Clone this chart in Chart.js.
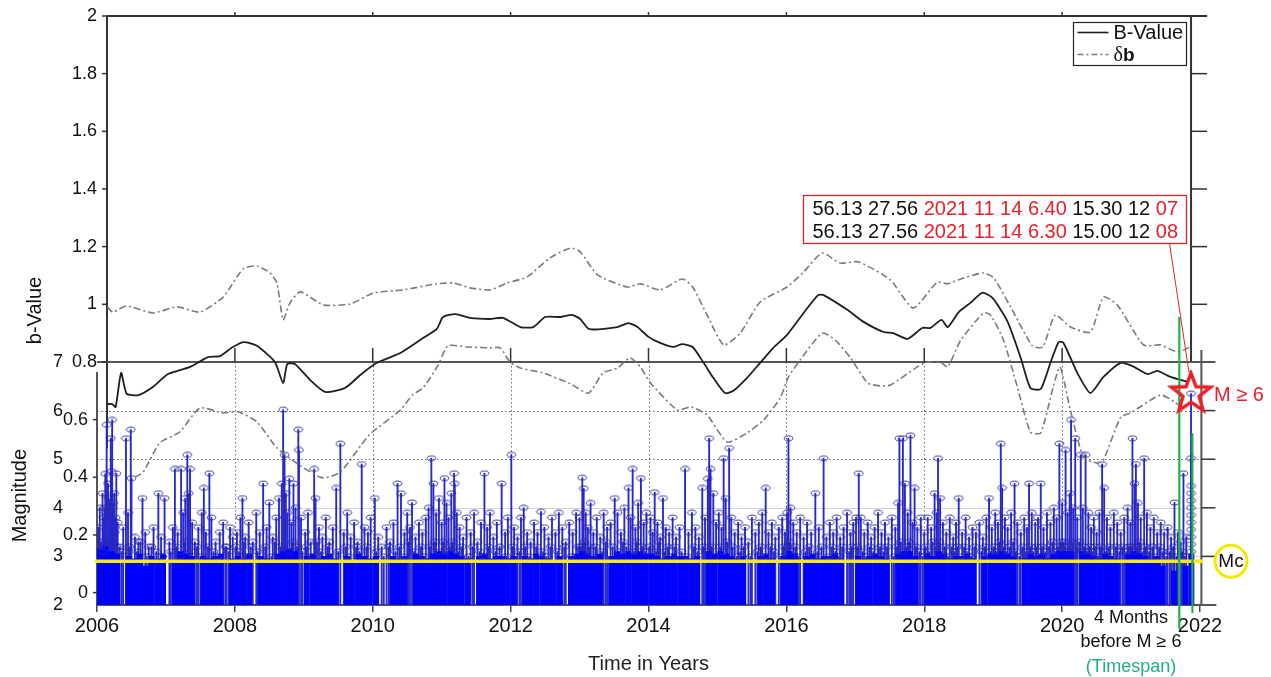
<!DOCTYPE html>
<html>
<head>
<meta charset="utf-8">
<title>b-Value and Magnitude</title>
<script src="https://cdn.jsdelivr.net/npm/chart.js@4.4.1/dist/chart.umd.min.js"></script>
<style>
  html, body { margin: 0; padding: 0; background: #fff; }
  #wrap { width: 1271px; height: 677px; }
</style>
</head>
<body>
<div id="wrap"><canvas id="bChart" width="1271" height="677"></canvas></div>
<script>
// b-value curve, [decimal year, b]
const bValue = [
  [2006.15, 0.654], [2006.22, 0.654], [2006.27, 0.644], [2006.35, 0.762], [2006.43, 0.69], [2006.6, 0.685],
  [2006.81, 0.713], [2007.03, 0.758], [2007.35, 0.783], [2007.61, 0.817], [2007.78, 0.82], [2007.97, 0.852],
  [2008.13, 0.869], [2008.32, 0.856], [2008.58, 0.8], [2008.70, 0.727], [2008.76, 0.793], [2008.87, 0.793],
  [2009.09, 0.738], [2009.31, 0.696], [2009.6, 0.71], [2009.82, 0.755], [2010.06, 0.797], [2010.40, 0.831],
  [2010.73, 0.883], [2010.93, 0.915], [2011.02, 0.956], [2011.20, 0.966], [2011.41, 0.953], [2011.70, 0.949],
  [2011.89, 0.953], [2012.14, 0.921], [2012.33, 0.921], [2012.50, 0.956], [2012.72, 0.956], [2012.89, 0.963],
  [2013.01, 0.949], [2013.14, 0.914], [2013.55, 0.921], [2013.71, 0.935], [2013.84, 0.921], [2014.0, 0.887],
  [2014.17, 0.866], [2014.36, 0.852], [2014.49, 0.862], [2014.64, 0.852], [2014.80, 0.797], [2014.94, 0.745],
  [2015.11, 0.692], [2015.23, 0.7], [2015.43, 0.745], [2015.62, 0.797], [2015.81, 0.849], [2016.01, 0.894],
  [2016.25, 0.97], [2016.46, 1.032], [2016.54, 1.032], [2016.89, 0.98], [2017.12, 0.939], [2017.41, 0.904],
  [2017.55, 0.9], [2017.76, 0.88], [2017.97, 0.918], [2018.09, 0.918], [2018.25, 0.946], [2018.34, 0.921],
  [2018.50, 0.973], [2018.67, 1.005], [2018.84, 1.04], [2018.99, 1.022], [2019.21, 0.939], [2019.40, 0.814],
  [2019.54, 0.71], [2019.69, 0.706], [2019.83, 0.797], [2019.95, 0.869], [2020.02, 0.866], [2020.22, 0.762],
  [2020.41, 0.692], [2020.60, 0.748], [2020.85, 0.797], [2021.04, 0.783], [2021.24, 0.758], [2021.38, 0.769],
  [2021.57, 0.748], [2021.82, 0.731]
];
// b + delta b
const bUpper = [
  [2006.15, 0.991], [2006.23, 0.973], [2006.43, 0.994], [2006.81, 0.97], [2007.16, 0.991], [2007.49, 0.973],
  [2007.83, 1.025], [2008.12, 1.123], [2008.32, 1.133], [2008.51, 1.109], [2008.61, 1.074], [2008.70, 0.946],
  [2008.80, 1.005], [2008.95, 1.043], [2009.28, 0.998], [2009.67, 1.001], [2010.01, 1.039], [2010.44, 1.05],
  [2010.93, 1.071], [2011.17, 1.074], [2011.41, 1.057], [2011.70, 1.05], [2011.95, 1.074], [2012.24, 1.095],
  [2012.57, 1.161], [2012.87, 1.195], [2013.01, 1.182], [2013.26, 1.102], [2013.69, 1.06], [2013.88, 1.071],
  [2014.17, 1.05], [2014.49, 1.088], [2014.64, 1.06], [2014.85, 0.963], [2015.09, 0.859], [2015.33, 0.9],
  [2015.62, 1.008], [2016.01, 1.06], [2016.25, 1.112], [2016.52, 1.178], [2016.78, 1.143], [2017.05, 1.147],
  [2017.51, 1.084], [2017.84, 0.987], [2018.19, 1.077], [2018.34, 1.071], [2018.53, 1.088], [2018.86, 1.109],
  [2019.01, 1.091], [2019.30, 0.97], [2019.57, 0.855], [2019.72, 0.852], [2019.90, 0.963], [2020.12, 0.921],
  [2020.41, 0.904], [2020.60, 1.025], [2020.80, 0.998], [2021.18, 0.859], [2021.43, 0.859], [2021.67, 0.835],
  [2021.86, 0.852]
];
// b - delta b
const bLower = [
  [2006.55, 0.40], [2006.67, 0.418], [2006.91, 0.519], [2007.2, 0.557], [2007.49, 0.64], [2007.83, 0.623],
  [2008.05, 0.627], [2008.32, 0.592], [2008.61, 0.502], [2008.95, 0.44], [2009.27, 0.398], [2009.53, 0.418],
  [2009.95, 0.547], [2010.4, 0.633], [2010.58, 0.686], [2010.73, 0.71], [2010.95, 0.79], [2011.09, 0.856],
  [2011.37, 0.852], [2011.70, 0.849], [2011.85, 0.849], [2011.99, 0.8], [2012.14, 0.779], [2012.47, 0.762],
  [2012.87, 0.724], [2013.13, 0.692], [2013.34, 0.762], [2013.55, 0.779], [2013.73, 0.814], [2013.88, 0.783],
  [2014.03, 0.727], [2014.42, 0.633], [2014.61, 0.644], [2014.85, 0.616], [2015.14, 0.522], [2015.43, 0.554],
  [2015.67, 0.599], [2015.91, 0.675], [2016.03, 0.748], [2016.2, 0.807], [2016.52, 0.9], [2016.71, 0.876],
  [2016.93, 0.814], [2017.18, 0.727], [2017.36, 0.717], [2017.51, 0.72], [2017.9, 0.783], [2018.05, 0.8],
  [2018.23, 0.8], [2018.34, 0.783], [2018.53, 0.876], [2018.86, 0.97], [2018.96, 0.963], [2019.15, 0.876],
  [2019.35, 0.713], [2019.54, 0.557], [2019.69, 0.554], [2019.87, 0.713], [2019.97, 0.783], [2020.12, 0.633],
  [2020.31, 0.47], [2020.51, 0.449], [2020.6, 0.46], [2020.85, 0.609], [2020.99, 0.623], [2021.43, 0.685],
  [2021.65, 0.658], [2021.76, 0.633]
];
// larger events, [decimal year, magnitude]
const bigEvents = [
  [2006.02, 3.6], [2006.04, 4.0], [2006.06, 3.3], [2006.08, 4.3], [2006.10, 3.8], [2006.11, 4.0], [2006.12, 4.7],
  [2006.13, 3.9], [2006.14, 5.71], [2006.16, 4.5], [2006.17, 4.2], [2006.18, 3.9], [2006.19, 4.1], [2006.20, 5.43],
  [2006.21, 4.75], [2006.22, 5.81], [2006.23, 4.0], [2006.24, 4.1], [2006.25, 4.3], [2006.26, 3.5], [2006.27, 3.8],
  [2006.28, 4.71], [2006.30, 3.7], [2006.33, 3.2], [2006.38, 3.6], [2006.42, 5.43], [2006.45, 3.9], [2006.49, 5.61],
  [2006.50, 4.61], [2006.55, 3.4], [2006.60, 3.3], [2006.66, 4.2], [2006.70, 3.5], [2006.75, 3.2], [2006.82, 3.6],
  [2006.89, 4.3], [2006.93, 3.4], [2006.98, 4.2],
  [2007.05, 3.3], [2007.10, 3.6], [2007.13, 4.8], [2007.17, 3.5], [2007.22, 4.8], [2007.25, 3.9], [2007.28, 4.2],
  [2007.31, 5.09], [2007.33, 4.3], [2007.35, 4.8], [2007.38, 3.7], [2007.42, 3.3], [2007.47, 3.6], [2007.52, 3.9],
  [2007.55, 4.41], [2007.58, 3.5], [2007.63, 4.71], [2007.66, 3.8], [2007.72, 3.3], [2007.78, 3.5], [2007.83, 3.7],
  [2007.88, 3.2], [2007.93, 3.6], [2007.97, 3.4],
  [2008.03, 3.5], [2008.08, 3.8], [2008.11, 4.2], [2008.15, 3.4], [2008.20, 3.7], [2008.26, 3.3], [2008.31, 3.9],
  [2008.36, 3.5], [2008.41, 4.5], [2008.46, 3.6], [2008.50, 4.11], [2008.55, 3.4], [2008.60, 3.8], [2008.64, 4.2],
  [2008.68, 4.5], [2008.70, 6.02], [2008.72, 5.09], [2008.74, 4.3], [2008.76, 3.9], [2008.79, 4.6], [2008.82, 3.7],
  [2008.85, 4.5], [2008.88, 4.0], [2008.92, 5.61], [2008.93, 5.19], [2008.96, 3.8],
  [2009.02, 3.5], [2009.06, 3.9], [2009.10, 3.3], [2009.15, 4.8], [2009.17, 4.2], [2009.22, 3.6], [2009.27, 3.4],
  [2009.32, 3.8], [2009.37, 3.3], [2009.42, 3.6], [2009.47, 4.41], [2009.53, 5.32], [2009.58, 3.5], [2009.63, 3.9],
  [2009.68, 3.4], [2009.73, 3.7], [2009.78, 3.3], [2009.84, 4.9], [2009.88, 3.6], [2009.93, 3.5], [2009.97, 3.8],
  [2010.03, 4.2], [2010.08, 3.4], [2010.13, 3.2], [2010.20, 3.6], [2010.25, 3.3], [2010.30, 3.7], [2010.36, 4.5],
  [2010.41, 4.3], [2010.46, 3.5], [2010.50, 3.9], [2010.54, 3.6], [2010.57, 4.11], [2010.62, 3.4], [2010.67, 3.7],
  [2010.72, 3.5], [2010.77, 3.8], [2010.81, 4.0], [2010.85, 5.02], [2010.88, 4.5], [2010.92, 3.9], [2010.96, 4.2],
  [2011.00, 3.7], [2011.04, 4.61], [2011.07, 4.1], [2011.10, 3.8], [2011.14, 4.3], [2011.18, 4.71], [2011.19, 4.5],
  [2011.22, 3.9], [2011.26, 3.6], [2011.31, 3.4], [2011.36, 3.8], [2011.42, 3.5], [2011.47, 3.9], [2011.52, 3.3],
  [2011.57, 3.7], [2011.62, 4.71], [2011.66, 3.6], [2011.70, 3.9], [2011.75, 3.4], [2011.80, 3.7], [2011.87, 4.5],
  [2011.92, 3.5], [2011.96, 3.8],
  [2012.01, 5.09], [2012.05, 3.6], [2012.10, 3.4], [2012.15, 3.8], [2012.19, 4.0], [2012.24, 3.5], [2012.29, 3.3],
  [2012.34, 3.7], [2012.39, 3.5], [2012.44, 3.92], [2012.49, 3.6], [2012.55, 3.4], [2012.60, 3.8], [2012.65, 3.5],
  [2012.70, 3.9], [2012.75, 3.6], [2012.80, 3.3], [2012.85, 3.7], [2012.90, 3.5], [2012.95, 3.9],
  [2013.00, 3.8], [2013.04, 4.62], [2013.06, 4.4], [2013.09, 3.9], [2013.12, 3.6], [2013.16, 4.1], [2013.20, 3.5],
  [2013.25, 3.8], [2013.30, 3.4], [2013.35, 3.9], [2013.40, 3.6], [2013.45, 3.7], [2013.51, 4.2], [2013.55, 3.9],
  [2013.60, 3.5], [2013.65, 4.0], [2013.71, 4.41], [2013.74, 3.8], [2013.77, 4.8], [2013.81, 3.6], [2013.85, 4.1],
  [2013.89, 4.61], [2013.93, 3.7], [2013.97, 3.9],
  [2014.03, 3.8], [2014.06, 3.5], [2014.09, 4.32], [2014.13, 3.7], [2014.17, 3.4], [2014.21, 4.2], [2014.25, 3.6],
  [2014.30, 3.5], [2014.35, 3.8], [2014.40, 3.4], [2014.45, 3.6], [2014.53, 4.8], [2014.58, 3.5], [2014.63, 3.9],
  [2014.68, 3.6], [2014.73, 3.4], [2014.78, 4.41], [2014.82, 3.8], [2014.86, 4.6], [2014.88, 5.43], [2014.90, 4.8],
  [2014.94, 4.3], [2014.98, 3.7],
  [2015.02, 3.9], [2015.06, 3.6], [2015.09, 5.02], [2015.12, 4.2], [2015.17, 5.23], [2015.20, 3.8], [2015.25, 3.5],
  [2015.30, 3.7], [2015.35, 3.4], [2015.40, 3.6], [2015.45, 3.3], [2015.50, 3.8], [2015.55, 3.5], [2015.60, 3.7],
  [2015.65, 3.9], [2015.70, 4.41], [2015.74, 3.5], [2015.79, 3.7], [2015.84, 3.4], [2015.89, 3.6], [2015.94, 3.8],
  [2015.98, 3.5],
  [2016.01, 3.9], [2016.03, 5.43], [2016.06, 4.0], [2016.10, 3.7], [2016.15, 3.5], [2016.20, 3.8], [2016.25, 3.4],
  [2016.30, 3.7], [2016.36, 3.5], [2016.42, 4.3], [2016.47, 3.6], [2016.54, 5.02], [2016.58, 3.4], [2016.63, 3.7],
  [2016.68, 3.5], [2016.73, 3.8], [2016.78, 3.4], [2016.83, 3.6], [2016.88, 3.9], [2016.93, 3.5], [2016.97, 3.7],
  [2017.01, 3.8], [2017.05, 4.71], [2017.08, 3.8], [2017.13, 3.5], [2017.18, 3.7], [2017.23, 3.4], [2017.28, 3.6],
  [2017.33, 3.9], [2017.38, 3.5], [2017.43, 3.7], [2017.48, 3.4], [2017.53, 3.8], [2017.58, 3.6], [2017.62, 4.1],
  [2017.64, 5.43], [2017.69, 5.43], [2017.72, 4.5], [2017.76, 3.9], [2017.80, 5.49], [2017.83, 3.7], [2017.86, 4.41],
  [2017.90, 3.6], [2017.95, 3.8],
  [2018.00, 3.5], [2018.05, 3.8], [2018.10, 3.6], [2018.15, 4.3], [2018.18, 3.9], [2018.20, 5.02], [2018.23, 4.2],
  [2018.27, 3.7], [2018.32, 3.5], [2018.37, 3.8], [2018.42, 3.4], [2018.46, 3.7], [2018.50, 4.2], [2018.55, 3.5],
  [2018.60, 3.8], [2018.65, 3.4], [2018.70, 3.6], [2018.75, 3.5], [2018.80, 3.7], [2018.85, 3.4], [2018.90, 3.8],
  [2018.94, 4.2], [2018.98, 3.6],
  [2019.03, 3.9], [2019.07, 3.7], [2019.11, 5.32], [2019.13, 4.41], [2019.17, 3.8], [2019.21, 3.6], [2019.26, 3.9],
  [2019.31, 4.5], [2019.35, 3.7], [2019.40, 3.5], [2019.45, 3.8], [2019.49, 3.6], [2019.52, 4.5], [2019.56, 3.9],
  [2019.61, 3.7], [2019.65, 3.8], [2019.69, 4.5], [2019.73, 3.6], [2019.78, 3.9], [2019.83, 3.7], [2019.88, 4.0],
  [2019.92, 3.8], [2019.96, 5.32],
  [2020.00, 4.1], [2020.05, 5.19], [2020.08, 3.9], [2020.11, 4.3], [2020.13, 5.81], [2020.16, 4.0], [2020.19, 5.43],
  [2020.22, 3.8], [2020.27, 5.09], [2020.30, 4.0], [2020.34, 5.09], [2020.38, 3.9], [2020.42, 3.6], [2020.46, 3.8],
  [2020.50, 3.5], [2020.54, 3.9], [2020.58, 4.9], [2020.61, 4.41], [2020.65, 3.8], [2020.70, 3.6], [2020.75, 3.9],
  [2020.80, 3.7], [2020.85, 3.5], [2020.90, 3.8], [2020.95, 4.0], [2020.99, 3.7],
  [2021.02, 5.43], [2021.05, 4.5], [2021.07, 4.9], [2021.10, 4.1], [2021.14, 3.8], [2021.19, 5.02], [2021.23, 3.9],
  [2021.28, 3.6], [2021.33, 3.8], [2021.38, 3.5], [2021.43, 3.7], [2021.48, 3.5], [2021.53, 3.6], [2021.58, 3.4],
  [2021.63, 4.11], [2021.68, 3.5], [2021.72, 3.3], [2021.76, 4.71], [2021.80, 3.4],
  [2021.87, 3.1], [2021.87, 3.25], [2021.87, 3.4], [2021.87, 3.55], [2021.87, 3.7], [2021.87, 3.85], [2021.87, 4.0],
  [2021.87, 4.15], [2021.87, 4.3], [2021.87, 4.45], [2021.87, 5.02], [2021.87, 6.35]
];
// events just above Mc
const smallEvents = [
  [2006.05, 3.2], [2006.09, 3.1], [2006.15, 3.3], [2006.29, 3.2], [2006.36, 3.1], [2006.47, 3.2], [2006.58, 3.1],
  [2006.63, 3.3], [2006.72, 3.0], [2006.79, 3.2], [2006.86, 3.1], [2006.95, 3.0],
  [2007.07, 3.1], [2007.15, 3.2], [2007.20, 3.0], [2007.27, 3.3], [2007.36, 3.1], [2007.45, 3.2], [2007.50, 3.0],
  [2007.61, 3.2], [2007.69, 3.1], [2007.75, 3.0], [2007.86, 3.2], [2007.91, 3.1],
  [2008.01, 3.2], [2008.06, 3.1], [2008.13, 3.3], [2008.18, 3.0], [2008.23, 3.2], [2008.33, 3.1], [2008.44, 3.2],
  [2008.53, 3.0], [2008.58, 3.3], [2008.66, 3.2], [2008.78, 3.1], [2008.84, 3.3], [2008.90, 3.2], [2008.98, 3.1],
  [2009.04, 3.2], [2009.12, 3.0], [2009.19, 3.3], [2009.25, 3.1], [2009.35, 3.2], [2009.40, 3.0], [2009.50, 3.1],
  [2009.61, 3.2], [2009.66, 3.0], [2009.76, 3.2], [2009.81, 3.1], [2009.91, 3.2],
  [2010.05, 3.1], [2010.16, 3.0], [2010.23, 3.2], [2010.33, 3.1], [2010.39, 3.2], [2010.44, 3.0], [2010.52, 3.3],
  [2010.60, 3.1], [2010.70, 3.2], [2010.75, 3.0], [2010.83, 3.2], [2010.90, 3.3], [2010.98, 3.1],
  [2011.02, 3.3], [2011.06, 3.1], [2011.12, 3.2], [2011.16, 3.3], [2011.24, 3.1], [2011.29, 3.2], [2011.39, 3.0],
  [2011.45, 3.2], [2011.55, 3.1], [2011.60, 3.0], [2011.68, 3.2], [2011.78, 3.1], [2011.84, 3.2], [2011.94, 3.0],
  [2012.03, 3.2], [2012.08, 3.0], [2012.13, 3.1], [2012.21, 3.2], [2012.27, 3.0], [2012.37, 3.2], [2012.47, 3.1],
  [2012.52, 3.0], [2012.58, 3.2], [2012.68, 3.1], [2012.78, 3.2], [2012.88, 3.0], [2012.98, 3.2],
  [2013.02, 3.2], [2013.07, 3.3], [2013.11, 3.1], [2013.14, 3.2], [2013.18, 3.0], [2013.23, 3.2], [2013.33, 3.1],
  [2013.38, 3.3], [2013.48, 3.2], [2013.58, 3.1], [2013.63, 3.3], [2013.68, 3.2], [2013.79, 3.1], [2013.83, 3.3],
  [2013.91, 3.2], [2013.95, 3.1],
  [2014.01, 3.2], [2014.11, 3.1], [2014.15, 3.3], [2014.23, 3.1], [2014.28, 3.2], [2014.33, 3.0], [2014.38, 3.2],
  [2014.48, 3.1], [2014.56, 3.0], [2014.66, 3.2], [2014.71, 3.1], [2014.80, 3.2], [2014.84, 3.1], [2014.92, 3.2],
  [2014.96, 3.0],
  [2015.04, 3.2], [2015.08, 3.1], [2015.14, 3.3], [2015.22, 3.2], [2015.28, 3.0], [2015.33, 3.1], [2015.38, 3.2],
  [2015.48, 3.0], [2015.58, 3.1], [2015.63, 3.2], [2015.68, 3.0], [2015.77, 3.2], [2015.82, 3.1], [2015.92, 3.0],
  [2015.96, 3.2],
  [2016.02, 3.2], [2016.05, 3.3], [2016.08, 3.1], [2016.13, 3.2], [2016.18, 3.0], [2016.28, 3.1], [2016.33, 3.2],
  [2016.39, 3.0], [2016.45, 3.1], [2016.51, 3.2], [2016.61, 3.0], [2016.66, 3.2], [2016.71, 3.1], [2016.76, 3.0],
  [2016.81, 3.2], [2016.91, 3.1], [2016.95, 3.2],
  [2017.03, 3.2], [2017.11, 3.1], [2017.16, 3.0], [2017.21, 3.2], [2017.26, 3.1], [2017.31, 3.0], [2017.36, 3.2],
  [2017.41, 3.1], [2017.46, 3.2], [2017.56, 3.0], [2017.60, 3.2], [2017.66, 3.3], [2017.70, 3.1], [2017.74, 3.2],
  [2017.78, 3.3], [2017.88, 3.2], [2017.93, 3.1], [2017.98, 3.0],
  [2018.02, 3.2], [2018.07, 3.1], [2018.12, 3.3], [2018.17, 3.2], [2018.22, 3.3], [2018.25, 3.1], [2018.30, 3.2],
  [2018.35, 3.0], [2018.40, 3.2], [2018.44, 3.1], [2018.48, 3.2], [2018.53, 3.0], [2018.58, 3.2], [2018.63, 3.1],
  [2018.68, 3.0], [2018.73, 3.2], [2018.83, 3.1], [2018.88, 3.2], [2018.96, 3.1],
  [2019.01, 3.2], [2019.05, 3.1], [2019.09, 3.3], [2019.15, 3.2], [2019.19, 3.1], [2019.24, 3.2], [2019.29, 3.3],
  [2019.33, 3.1], [2019.38, 3.0], [2019.43, 3.2], [2019.47, 3.1], [2019.54, 3.2], [2019.58, 3.1], [2019.63, 3.2],
  [2019.67, 3.0], [2019.71, 3.2], [2019.76, 3.1], [2019.81, 3.2], [2019.86, 3.3], [2019.90, 3.1], [2019.94, 3.2],
  [2019.98, 3.3],
  [2020.02, 3.3], [2020.04, 3.2], [2020.07, 3.1], [2020.10, 3.2], [2020.14, 3.3], [2020.18, 3.1], [2020.21, 3.2],
  [2020.25, 3.3], [2020.29, 3.1], [2020.32, 3.2], [2020.36, 3.1], [2020.40, 3.2], [2020.44, 3.1], [2020.48, 3.2],
  [2020.52, 3.0], [2020.56, 3.2], [2020.63, 3.1], [2020.68, 3.2], [2020.73, 3.0], [2020.78, 3.2], [2020.83, 3.1],
  [2020.88, 3.2], [2020.93, 3.1], [2020.97, 3.2],
  [2021.01, 3.2], [2021.04, 3.1], [2021.09, 3.2], [2021.12, 3.3], [2021.17, 3.1], [2021.21, 3.2], [2021.26, 3.1],
  [2021.31, 3.2], [2021.36, 3.0], [2021.41, 3.2], [2021.46, 3.1], [2021.51, 3.0], [2021.56, 3.1], [2021.61, 3.2],
  [2021.66, 3.0], [2021.74, 3.1], [2021.78, 3.0]
];
// upper level of the dense small events, one value per month Jan 2006 .. Dec 2021 (0 = none)
const baseMonthly = [
  3.15, 3.2, 3.1, 3.05, 0, 3.0, 2.95, 3.05, 2.8, 3.0, 2.95, 3.05,
  0, 2.9, 3.1, 3.05, 3.0, 0, 3.0, 2.95, 3.0, 3.05, 0, 2.95,
  3.0, 2.95, 3.05, 0, 3.0, 2.95, 2.9, 3.05, 3.1, 3.15, 3.1, 0,
  3.0, 3.05, 2.95, 3.0, 3.05, 2.95, 0, 3.0, 2.9, 3.05, 3.0, 2.95,
  3.0, 0, 0, 3.0, 2.95, 3.0, 0, 3.05, 3.0, 2.95, 3.05, 3.1,
  3.05, 3.1, 3.05, 3.0, 2.95, 0, 3.0, 3.05, 2.95, 3.0, 3.0, 2.95,
  3.0, 0, 3.0, 2.95, 3.05, 3.0, 2.95, 2.9, 3.0, 0, 3.0, 3.05,
  3.1, 3.05, 3.0, 3.05, 0, 3.0, 3.1, 3.05, 3.1, 3.05, 3.1, 3.05,
  3.05, 3.0, 2.95, 3.0, 3.05, 3.0, 3.0, 2.95, 3.0, 0, 3.1, 3.05,
  3.1, 3.05, 3.0, 2.95, 3.0, 0, 0, 3.0, 3.05, 2.95, 0, 3.0,
  3.1, 3.05, 0, 3.0, 3.05, 2.95, 3.0, 3.0, 3.05, 2.95, 0, 0,
  3.0, 2.95, 3.0, 3.05, 3.0, 2.95, 0, 3.05, 3.1, 3.1, 3.0, 0,
  3.05, 3.0, 3.1, 3.05, 2.95, 3.0, 3.0, 3.05, 2.95, 0, 3.0, 3.05,
  3.05, 3.1, 3.05, 3.0, 0, 2.95, 3.05, 3.0, 3.05, 2.95, 3.05, 3.1,
  3.1, 3.1, 0, 3.1, 3.05, 3.0, 2.95, 3.05, 3.0, 2.95, 0, 3.05,
  3.1, 3.05, 3.0, 2.95, 3.0, 2.8, 0, 2.7, 0, 2.8, 3.05, 0
];
const mainShock = [2021.87, 6.35];
const mcValue = 2.9;
const windowStart = 2021.70;
const windowEnd = 2021.89;
const yearTicks = [2006, 2008, 2010, 2012, 2014, 2016, 2018, 2020, 2022];
const bTicksUpper = [0.8, 1, 1.2, 1.4, 1.6, 1.8, 2];
const bTicksLower = [0, 0.2, 0.4, 0.6];
const magTicks = [2, 3, 4, 5, 6, 7];
const infoRows = [
  ['56.13 27.56 ', '2021 11 14 6.40', ' 15.30 12 ', '07'],
  ['56.13 27.56 ', '2021 11 14 6.30', ' 15.00 12 ', '08']
];

const FONT = '"Liberation Sans", Arial, Helvetica, sans-serif';
const RED = '#e8202a';
const events = bigEvents.concat(smallEvents);

function line(ctx, x1, y1, x2, y2) {
  ctx.beginPath();
  ctx.moveTo(x1, y1);
  ctx.lineTo(x2, y2);
  ctx.stroke();
}

function ellipseMarker() {
  const c = document.createElement('canvas');
  c.width = 11; c.height = 7;
  const g = c.getContext('2d');
  g.strokeStyle = '#2a2aa8';
  g.lineWidth = 1;
  g.beginPath();
  g.ellipse(5.5, 3.5, 4.3, 2.4, 0, 0, Math.PI * 2);
  g.stroke();
  return c;
}

function starMarker() {
  const c = document.createElement('canvas');
  c.width = 48; c.height = 48;
  const g = c.getContext('2d');
  g.strokeStyle = RED;
  g.lineWidth = 3.5;
  g.beginPath();
  for (let i = 0; i < 10; i++) {
    const r = i % 2 ? 8.5 : 20.5;
    const a = -Math.PI / 2 + i * Math.PI / 5;
    const px = 24 + r * Math.cos(a), py = 24 + r * Math.sin(a);
    if (i) g.lineTo(px, py); else g.moveTo(px, py);
  }
  g.closePath();
  g.stroke();
  return c;
}

const fmtB = v => String(+Number(v).toFixed(1));
// fixed axis widths, no extra vertical padding from tick labels
const fixWidth = w => s => { s.width = w; s.paddingTop = 0; s.paddingBottom = 0; };

// panel frames, grid and small tick marks
const framePlugin = {
  id: 'frames',
  beforeDatasetsDraw(chart) {
    const {ctx, chartArea: a, scales: {x, yB, yMag}} = chart;
    const yTop = yB.getPixelForValue(2);
    const yMid = yMag.getPixelForValue(7);
    const yBot = a.bottom;
    const xUpL = x.getPixelForValue(2006.145);
    const xUpR = x.getPixelForValue(2021.87);
    const xLoR = x.getPixelForValue(2022.02);
    const inner = yearTicks.slice(1, -1);
    ctx.save();
    ctx.lineWidth = 1;
    ctx.strokeStyle = '#d4d4d4';
    [3, 4].forEach(m => {
      const py = Math.round(yMag.getPixelForValue(m)) + 0.5;
      line(ctx, a.left, py, xLoR, py);
    });
    ctx.strokeStyle = '#666';
    ctx.setLineDash([1.5, 2.5]);
    inner.forEach(t => {
      const px = Math.round(x.getPixelForValue(t)) + 0.5;
      line(ctx, px, yMid, px, yBot);
    });
    [5, 6].forEach(m => {
      const py = Math.round(yMag.getPixelForValue(m)) + 0.5;
      line(ctx, a.left, py, xLoR, py);
    });
    ctx.setLineDash([]);

    ctx.strokeStyle = '#333';
    ctx.lineWidth = 2;
    // upper panel
    line(ctx, xUpL, yTop, xUpR + 16, yTop);
    line(ctx, xUpL, yTop, xUpL, yB.getPixelForValue(0.5));
    line(ctx, xUpR, yTop, xUpR, yMid);
    // lower panel
    ctx.strokeStyle = '#555';
    line(ctx, a.left, yMid, xLoR + 14, yMid);
    line(ctx, a.left, yMid + 10, a.left, yBot);
    line(ctx, a.left, yBot, xLoR + 15, yBot);
    line(ctx, xLoR, yMid - 12, xLoR, yBot);

    ctx.lineWidth = 1.5;
    ctx.strokeStyle = '#333';
    bTicksUpper.forEach(v => {
      const py = yB.getPixelForValue(v);
      line(ctx, xUpL - 5, py, xUpL, py);
    });
    bTicksLower.forEach(v => {
      const py = yB.getPixelForValue(v);
      line(ctx, a.left - 4, py, a.left, py);
    });
    [1, 1.2, 1.4, 1.6, 1.8].forEach(v => {
      const py = yB.getPixelForValue(v);
      line(ctx, xUpR, py, xUpR + 16, py);
    });
    [3, 4, 5, 6].forEach(m => {
      const py = yMag.getPixelForValue(m);
      line(ctx, xLoR, py, xLoR + 14, py);
    });
    inner.forEach(t => {
      const px = x.getPixelForValue(t);
      line(ctx, px, yTop - 4, px, yTop);
      line(ctx, px, yMid - 14, px, yMid);
    });
    ctx.restore();
  },
  beforeDatasetDraw(chart, args) {
    if (args.index !== 0) return;
    // timespan markers, under the star
    const {ctx, chartArea: a, scales: {x, yB}} = chart;
    ctx.save();
    ctx.strokeStyle = '#22b24a';
    ctx.lineWidth = 2.2;
    const x1 = x.getPixelForValue(windowStart), x2 = x.getPixelForValue(windowEnd);
    line(ctx, x1, yB.getPixelForValue(0.956), x1, a.bottom + 24);
    line(ctx, x2, yB.getPixelForValue(0.553), x2, a.bottom + 8);
    ctx.restore();
  },
  afterDatasetsDraw(chart) {
    const {ctx, chartArea: a, scales: {yMag}} = chart;
    ctx.save();
    ctx.textBaseline = 'middle';

    // event info box
    const bx = 803.5, by = 195.5, bw = 383, bh = 48;
    ctx.fillStyle = '#fff';
    ctx.fillRect(bx, by, bw, bh);
    ctx.strokeStyle = RED;
    ctx.lineWidth = 1.3;
    ctx.strokeRect(bx, by, bw, bh);
    ctx.font = '20px ' + FONT;
    infoRows.forEach((row, i) => {
      let tx = bx + 9;
      const ty = by + 14 + i * 23;
      row.forEach((txt, k) => {
        ctx.fillStyle = k % 2 ? RED : '#111';
        ctx.fillText(txt, tx, ty);
        tx += ctx.measureText(txt).width;
      });
    });

    // pointer to the star
    const star = chart.getDatasetMeta(0).data[0];
    ctx.strokeStyle = RED;
    ctx.lineWidth = 1;
    line(ctx, bx + 366, by + bh, star.x - 2, star.y - 21);
    ctx.fillStyle = RED;
    ctx.font = '20px ' + FONT;
    ctx.textAlign = 'left';
    ctx.fillText('M \u2265 6', star.x + 23, star.y + 2);

    // Mc ring
    const mcY = yMag.getPixelForValue(mcValue);
    const mcX = a.right + 31;
    ctx.strokeStyle = '#f2ea00';
    ctx.lineWidth = 3;
    ctx.beginPath();
    ctx.arc(mcX, mcY, 16, 0, Math.PI * 2);
    ctx.stroke();
    ctx.fillStyle = '#111';
    ctx.font = '19px ' + FONT;
    ctx.textAlign = 'center';
    ctx.fillText('Mc', mcX, mcY + 1);

    // timespan caption
    ctx.font = '18px ' + FONT;
    ctx.fillText('4 Months', 1131, 618);
    ctx.fillText('before M \u2265 6', 1131, 642);
    ctx.fillStyle = '#1fb08a';
    ctx.fillText('(Timespan)', 1131, 667);

    // legend
    const lx = 1073.5, ly = 22.5;
    ctx.fillStyle = '#fff';
    ctx.fillRect(lx, ly, 113, 43);
    ctx.strokeStyle = '#222';
    ctx.lineWidth = 1.2;
    ctx.strokeRect(lx, ly, 113, 43);
    ctx.strokeStyle = '#1e1e1e';
    ctx.lineWidth = 1.6;
    line(ctx, lx + 4, ly + 10, lx + 35, ly + 10);
    ctx.strokeStyle = '#7a7a7a';
    ctx.setLineDash([6, 3, 2, 3]);
    line(ctx, lx + 4, ly + 32, lx + 35, ly + 32);
    ctx.setLineDash([]);
    ctx.fillStyle = '#111';
    ctx.textAlign = 'left';
    ctx.font = '20px ' + FONT;
    ctx.fillText('B-Value', lx + 40, ly + 11);
    ctx.font = '20px "Liberation Serif", "Times New Roman", serif';
    ctx.fillText('\u03b4', lx + 40, ly + 33);
    const dw = ctx.measureText('\u03b4').width;
    ctx.font = 'bold 19px ' + FONT;
    ctx.fillText('b', lx + 40 + dw, ly + 33);

    // magnitude axis title
    ctx.translate(20, yMag.getPixelForValue(4.25));
    ctx.rotate(-Math.PI / 2);
    ctx.font = '20px ' + FONT;
    ctx.textAlign = 'center';
    ctx.fillStyle = '#111';
    ctx.fillText('Magnitude', 0, 0);
    ctx.restore();
  }
};

const tickFont = {family: FONT, size: 18};
const toPts = arr => arr.map(p => ({x: p[0], y: p[1]}));

new Chart(document.getElementById('bChart'), {
  type: 'bar',
  data: {
    datasets: [
      {
        type: 'scatter', label: 'M \u2265 6', yAxisID: 'yMag', order: 0, clip: false,
        data: [{x: mainShock[0], y: mainShock[1]}],
        pointStyle: starMarker(), pointRadius: 10
      },
      {
        type: 'line', label: 'Mc', yAxisID: 'yMag', order: 1, clip: false,
        data: [{x: 2005.97, y: mcValue}, {x: 2022.04, y: mcValue}],
        borderColor: '#f6ee00', borderWidth: 3.5, pointRadius: 0
      },
      {
        type: 'line', label: 'B-Value', yAxisID: 'yB', order: 2,
        data: toPts(bValue), borderColor: '#1e1e1e', borderWidth: 1.8, pointRadius: 0, tension: 0.2
      },
      {
        type: 'line', label: '\u03b4b', yAxisID: 'yB', order: 3,
        data: toPts(bUpper), borderColor: '#7a7a7a', borderWidth: 1.6, borderDash: [7, 3, 2, 3],
        pointRadius: 0, tension: 0.2
      },
      {
        type: 'line', label: '\u03b4b', yAxisID: 'yB', order: 4,
        data: toPts(bLower), borderColor: '#7a7a7a', borderWidth: 1.6, borderDash: [7, 3, 2, 3],
        pointRadius: 0, tension: 0.2
      },
      {
        type: 'scatter', label: 'events', yAxisID: 'yMag', order: 5,
        data: toPts(events), pointStyle: ellipseMarker(), pointRadius: 4
      },
      {
        type: 'bar', label: 'small events', yAxisID: 'yMag', order: 6, grouped: false,
        data: baseMonthly.map((v, i) => v ? {x: 2006 + (i + 0.5) / 12, y: [2, v]} : null).filter(Boolean),
        backgroundColor: '#0000ff', barThickness: 5.3
      },
      {
        type: 'bar', label: 'stems', yAxisID: 'yMag', order: 7, grouped: false,
        data: events.map(e => ({x: e[0], y: [2, e[1]]})),
        backgroundColor: 'rgb(40,40,205)', barThickness: 1.2
      }
    ]
  },
  options: {
    responsive: false,
    animation: false,
    devicePixelRatio: 1,
    events: [],
    layout: {padding: {top: 16, right: 71, left: 0, bottom: 0}},
    plugins: {legend: {display: false}, tooltip: {enabled: false}},
    scales: {
      x: {
        type: 'linear', min: 2006, max: 2022, offset: false,
        afterFit: s => { s.height = 72; },
        afterBuildTicks: s => { s.ticks = yearTicks.map(v => ({value: v})); },
        ticks: {autoSkip: false, maxRotation: 0, padding: 2, color: '#111',
          font: {family: FONT, size: 20}, callback: v => String(v)},
        grid: {drawOnChartArea: false, offset: false, tickLength: 7, color: '#444', lineWidth: 1.5},
        border: {display: false},
        title: {display: true, text: 'Time in Years', color: '#222',
          font: {family: FONT, size: 20}, padding: {top: 0, bottom: 1}}
      },
      yB: {
        type: 'linear', position: 'left', weight: 10, min: -0.043, max: 2,
        afterFit: fixWidth(97),
        afterBuildTicks: s => { s.ticks = bTicksUpper.map(v => ({value: v})); },
        ticks: {autoSkip: false, padding: 0, color: '#111', font: tickFont, callback: fmtB},
        grid: {display: false, drawTicks: false},
        border: {display: false},
        title: {display: true, text: 'b-Value', color: '#111',
          font: {family: FONT, size: 20}, padding: {top: 23, bottom: 0}}
      },
      yB2: {
        type: 'linear', position: 'left', weight: 0, min: -0.043, max: 2,
        afterFit: fixWidth(0),
        afterBuildTicks: s => { s.ticks = bTicksLower.map(v => ({value: v})); },
        ticks: {autoSkip: false, mirror: true, crossAlign: 'far', padding: -34,
          color: '#111', font: tickFont, callback: fmtB},
        grid: {display: false, drawTicks: false},
        border: {display: false}
      },
      yMag: {
        type: 'linear', position: 'left', weight: 0, min: 2, max: 14.12, beginAtZero: false,
        afterFit: fixWidth(0),
        afterBuildTicks: s => { s.ticks = magTicks.map(v => ({value: v})); },
        ticks: {autoSkip: false, mirror: true, crossAlign: 'far', padding: -44,
          color: '#111', font: tickFont, callback: v => String(v)},
        grid: {display: false, drawTicks: false},
        border: {display: false}
      }
    }
  },
  plugins: [framePlugin]
});
</script>
</body>
</html>
